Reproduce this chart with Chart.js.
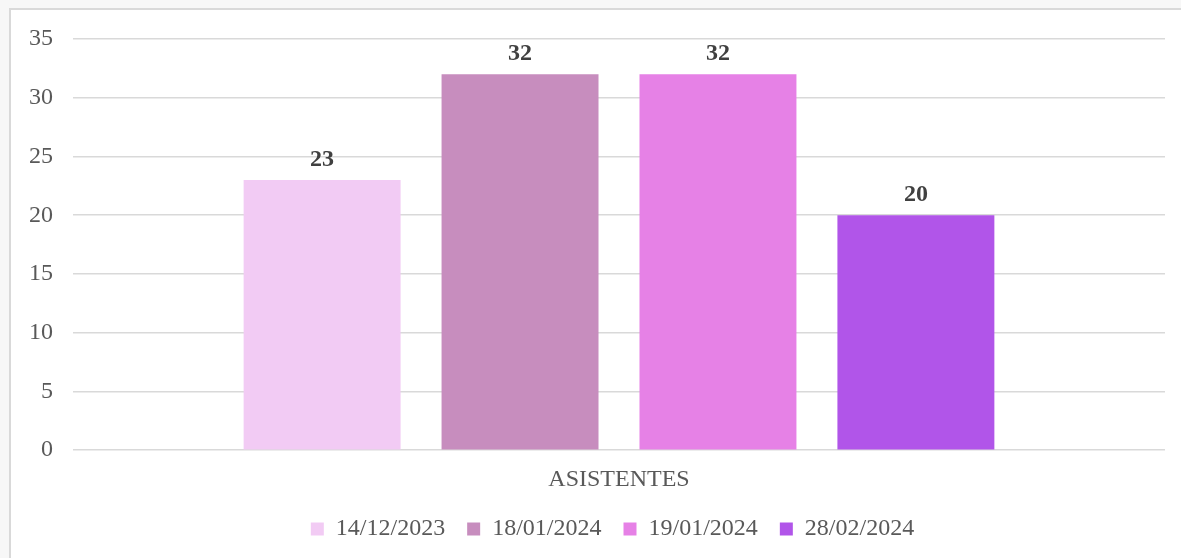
<!DOCTYPE html>
<html>
<head>
<meta charset="utf-8">
<script src="https://cdn.jsdelivr.net/npm/chart.js@4"></script>
<style>
  html, body { margin: 0; padding: 0; background: #f7f7f7; }
  #frame {
    position: absolute; left: 9px; top: 8px; width: 1200px; height: 600px;
    background: #fff; border: 2px solid #d9d9d9;
  }
  #wrap { position: absolute; left: 0; top: 0; width: 1181px; height: 558px; }
</style>
</head>
<body>
<div id="frame"></div>
<div id="wrap"><canvas id="myChart"></canvas></div>
<script>
const categories = ["ASISTENTES"];
const seriesNames = ["14/12/2023", "18/01/2024", "19/01/2024", "28/02/2024"];
const seriesValues = [23, 32, 32, 20];
const seriesColors = ["#f2cbf4", "#c78dbe", "#e681e6", "#b155e9"];
const yTicks = [0, 5, 10, 15, 20, 25, 30, 35];

const ctx = document.getElementById("myChart");
const FONT = "'Liberation Serif', 'Times New Roman', serif";

// draws the value above each bar
const barLabels = {
  id: "barLabels",
  afterDatasetsDraw(chart) {
    const c = chart.ctx;
    c.save();
    c.font = "bold 24px " + FONT;
    c.fillStyle = "#404040";
    c.textAlign = "center";
    c.textBaseline = "bottom";
    chart.data.datasets.forEach((ds, i) => {
      chart.getDatasetMeta(i).data.forEach((bar, j) => {
        c.fillText(ds.data[j], bar.x, bar.y - 8);
      });
    });
    c.restore();
  },
};

// nudge the legend a bit to the right, like the original
const legendShift = {
  id: "legendShift",
  afterLayout(chart) {
    chart.legend.left += 28;
    chart.legend.right += 28;
  },
};

function createChart(chartDOM) {
  new Chart(chartDOM, {
    type: "bar",
    data: {
      labels: categories,
      datasets: seriesNames.map((name, i) => ({
        label: name,
        data: [seriesValues[i]],
        backgroundColor: seriesColors[i],
        borderWidth: 0,
        categoryPercentage: 0.725,
        barPercentage: 0.793,
      })),
    },
    options: {
      responsive: false,
      animation: false,
      layout: { padding: { left: 10, right: 16, top: 39, bottom: 7 } },
      plugins: {
        tooltip: { enabled: false },
        legend: {
          position: "bottom",
          labels: {
            boxWidth: 13,
            boxHeight: 13,
            padding: 16,
            color: "#595959",
            font: { family: FONT, size: 24 },
            // a trailing space widens the gap between items
            generateLabels: (chart) =>
              Chart.defaults.plugins.legend.labels
                .generateLabels(chart)
                .map((item) => ({ ...item, text: item.text + " " })),
          },
        },
      },
      scales: {
        x: {
          grid: { display: false },
          border: { display: false },
          ticks: { color: "#595959", font: { family: FONT, size: 24 }, padding: 7 },
        },
        y: {
          min: 0,
          max: 35,
          afterFit: (scale) => { scale.width = 63; },
          afterBuildTicks: (scale) => { scale.ticks = yTicks.map((v) => ({ value: v })); },
          grid: { color: "#d9d9d9", lineWidth: 1.5, drawTicks: false },
          border: { display: false },
          ticks: { color: "#595959", font: { family: FONT, size: 24 }, padding: 20 },
        },
      },
    },
    plugins: [barLabels, legendShift],
  });
}

ctx.width = 1181;
ctx.height = 558;
createChart(ctx);
</script>
</body>
</html>
